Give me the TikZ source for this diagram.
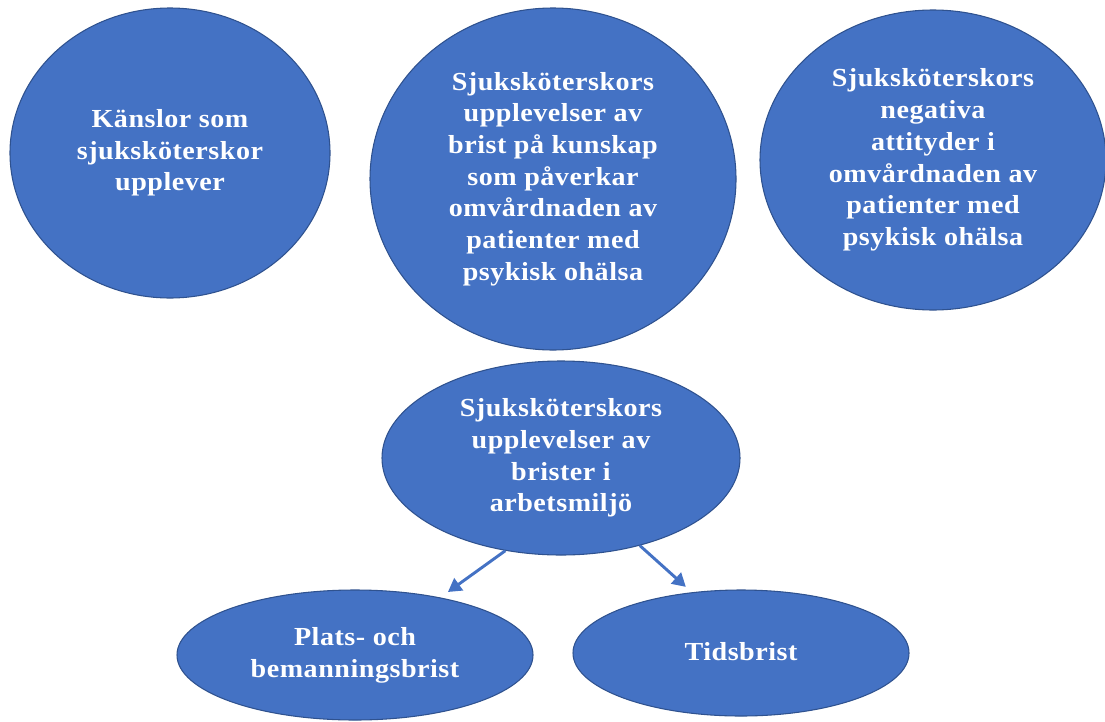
\documentclass[tikz,border=0pt]{standalone}
\usepackage{fontspec}
\newfontfamily\lblfont{Liberation Serif}[FakeStretch=1.08,LetterSpace=2]
\usepackage{tikz}
\usetikzlibrary{shapes.geometric,arrows.meta}
\definecolor{figFill}{HTML}{4472C4}
\definecolor{figEdge}{HTML}{2F528F}

\begin{document}
\begin{tikzpicture}[
  x=0.75pt, y=-0.75pt,
  every node/.style={font=\lblfont\bfseries\fontsize{19.5}{23.8}\selectfont, text=white},
  kat/.style={ellipse, draw=figEdge, line width=0.8pt, fill=figFill,
              inner sep=0pt, align=center},
  arr/.style={-{Triangle[length=10pt,width=11pt]}, line width=2.2pt, figFill},
]
\useasboundingbox (0,0) rectangle (1105,721);

% Upper themes
\node[kat, minimum width=240pt, minimum height=217.5pt] (kans) at (170,153)
  {Känslor som\\sjuksköterskor\\upplever};
\node[kat, minimum width=274.5pt, minimum height=256.5pt] (kunskap) at (553,179)
  {Sjuksköterskors\\upplevelser av\\brist på kunskap\\som påverkar\\omvårdnaden av\\patienter med\\psykisk ohälsa};
\node[kat, minimum width=259.5pt, minimum height=225pt] (attityd) at (933,160)
  {Sjuksköterskors\\negativa\\attityder i\\omvårdnaden av\\patienter med\\psykisk ohälsa};

% Work environment and sub-themes
\node[kat, minimum width=268.5pt, minimum height=145.5pt] (arbets) at (561,458)
  {Sjuksköterskors\\upplevelser av\\brister i\\arbetsmiljö};
\node[kat, minimum width=267pt, minimum height=97.5pt] (plats) at (355,655)
  {\raisebox{3pt}{\begin{tabular}{@{}c@{}}Plats- och\\bemanningsbrist\end{tabular}}};
\node[kat, minimum width=252pt, minimum height=94.5pt] (tids) at (741,653)
  {\raisebox{3pt}{Tidsbrist}};

% Arrows
\draw[arr, shorten >=7pt] (arbets.-121) -- (plats.34);
\draw[arr, shorten >=6pt] (arbets.-48.5) -- (tids.129);

\end{tikzpicture}
\end{document}
